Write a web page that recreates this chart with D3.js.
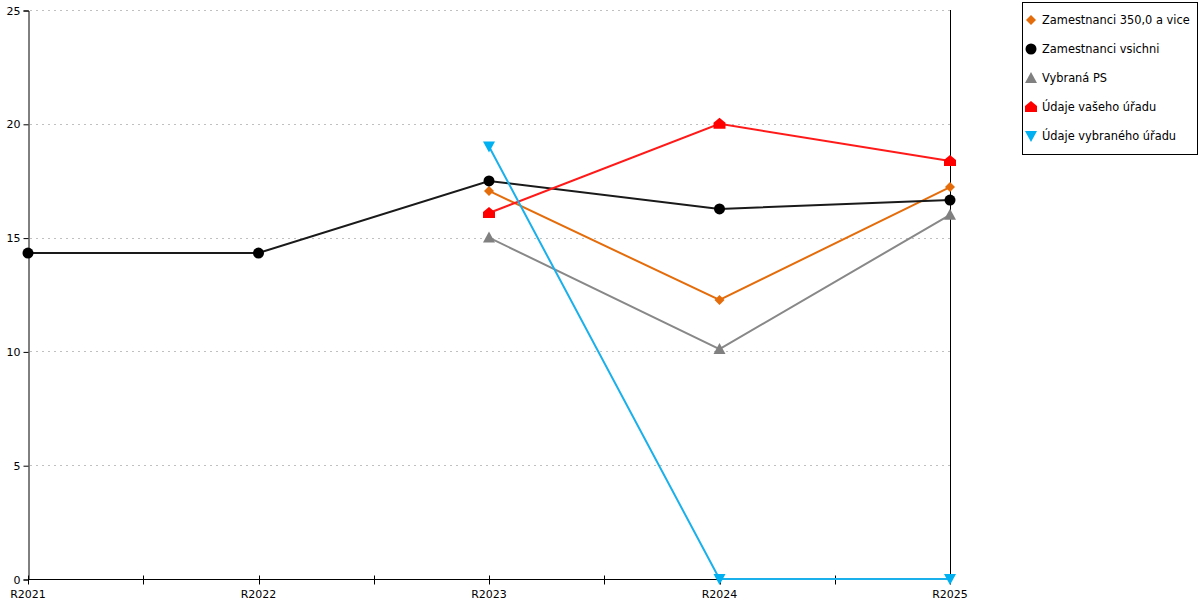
<!DOCTYPE html>
<html>
<head>
<meta charset="utf-8">
<script src="https://cdn.jsdelivr.net/npm/d3@7"></script>
<style>
  body { margin: 0; background: #fff; }
  text { font-family: "DejaVu Sans", sans-serif; font-size: 11px; fill: #000; }
</style>
</head>
<body>
<div id="screen"></div>
<script>
// data
var categories = ["R2021", "R2022", "R2023", "R2024", "R2025"];
var yTicks = [0, 5, 10, 15, 20, 25];

var zamestnanci350 = [null, null, 17.05, 12.26, 17.22];
var zamestnanciVsichni = [14.32, 14.32, 17.49, 16.26, 16.65];
var vybranaPS = [null, null, 15.0, 10.1, 16.0];
var udajeVasehoUradu = [null, null, 16.08, 20.0, 18.37];
var udajeVybranehoUradu = [null, null, 19.0, 0, 0];

var seriesNames = ["Zamestnanci 350,0 a vice", "Zamestnanci vsichni", "Vybraná PS", "Údaje vašeho úřadu", "Údaje vybraného úřadu"];
var seriesColors = ["#e46c0a", "#1a1a1a", "#888888", "#ff1a1a", "#1ab0ec"];
var markerColors = ["#e46c0a", "#000000", "#808080", "#ff0000", "#00b0f0"];
var markerKinds = ["diamond", "circle", "triangle", "house", "down"];
var seriesValues = [zamestnanci350, zamestnanciVsichni, vybranaPS, udajeVasehoUradu, udajeVybranehoUradu];

var width = 1200, height = 600;
var plotLeft = 28, plotRight = 950, plotTop = 10, plotBottom = 579;

var svg = d3.select("#screen").append("svg").attr("width", width).attr("height", height);

var x = d3.scalePoint().domain(categories).range([plotLeft, plotRight]);
var y = d3.scaleLinear().domain([0, 25]).range([plotBottom, plotTop]);

// grid lines
svg.append("g").selectAll("line").data(yTicks.filter(d => d > 0)).enter().append("line")
    .attr("x1", plotLeft + 2).attr("x2", plotRight)
    .attr("y1", d => Math.round(y(d)) + 0.5).attr("y2", d => Math.round(y(d)) + 0.5)
    .attr("stroke", "#c0c0c0").attr("stroke-dasharray", "2,4");

// y axis
var yAxis = svg.append("g").attr("transform", "translate(" + (plotLeft + 0.5) + ",0.5)")
    .call(d3.axisLeft(y).tickValues(yTicks).tickSize(5).tickPadding(3));
yAxis.select(".domain").attr("stroke", "#000");
yAxis.selectAll("text").style("font-family", "DejaVu Sans").style("font-size", "11px");

// right axis line
svg.append("line").attr("x1", plotRight + 0.5).attr("x2", plotRight + 0.5)
    .attr("y1", plotTop).attr("y2", plotBottom).attr("stroke", "#000");

// x axis
var xAxis = svg.append("g").attr("transform", "translate(0," + (plotBottom + 0.5) + ")");
xAxis.append("line").attr("x1", plotLeft).attr("x2", plotRight).attr("stroke", "#000");
var step = x.step();
var tickPos = [];
categories.forEach(function(c, i) {
    tickPos.push(x(c));
    if (i < categories.length - 1) tickPos.push(x(c) + step / 2);
});
xAxis.selectAll("line.tick").data(tickPos).enter().append("line")
    .attr("class", "tick")
    .attr("x1", d => Math.round(d) + 0.5).attr("x2", d => Math.round(d) + 0.5)
    .attr("y1", -4).attr("y2", 5).attr("stroke", "#000");
xAxis.selectAll("text").data(categories).enter().append("text")
    .attr("x", d => x(d)).attr("y", 18)
    .attr("text-anchor", "middle").text(d => d);

var markerPath = function(kind) {
    if (kind === "diamond") return "M0,-5L5,0L0,5L-5,0Z";
    if (kind === "triangle") return "M0,-6L6,5L-6,5Z";
    if (kind === "down") return "M-6,-5L6,-5L0,6Z";
    if (kind === "house") return "M0,-6L6,-1L6,5L-6,5L-6,-1Z";
    return null;
};

var drawMarker = function(g, kind, color, cx, cy) {
    if (kind === "circle") {
        g.append("circle").attr("cx", cx).attr("cy", cy).attr("r", 5.5).attr("fill", color);
    } else {
        g.append("path").attr("d", markerPath(kind))
            .attr("transform", "translate(" + cx + "," + cy + ")").attr("fill", color);
    }
};

var line = d3.line()
    .defined(d => d.v !== null)
    .x(d => x(d.c))
    .y(d => y(d.v));

seriesValues.forEach(function(vals, i) {
    var pts = categories.map((c, j) => ({c: c, v: vals[j]}));
    var g = svg.append("g");
    g.append("path").datum(pts).attr("d", line)
        .attr("fill", "none").attr("stroke", seriesColors[i]).attr("stroke-width", 2);
    pts.filter(p => p.v !== null).forEach(function(p) {
        drawMarker(g, markerKinds[i], markerColors[i], x(p.c), y(p.v));
    });
});

// legend
var legend = svg.append("g");
legend.append("rect").attr("x", 1022.5).attr("y", 2.5).attr("width", 175).attr("height", 152)
    .attr("fill", "#fff").attr("stroke", "#000");
seriesNames.forEach(function(name, i) {
    var ly = 20 + i * 29;
    drawMarker(legend, markerKinds[i], markerColors[i], 1031, ly);
    legend.append("text").attr("x", 1042).attr("y", ly).attr("dy", "0.35em")
        .style("font-size", "11.4px").text(name);
});
</script>
</body>
</html>
